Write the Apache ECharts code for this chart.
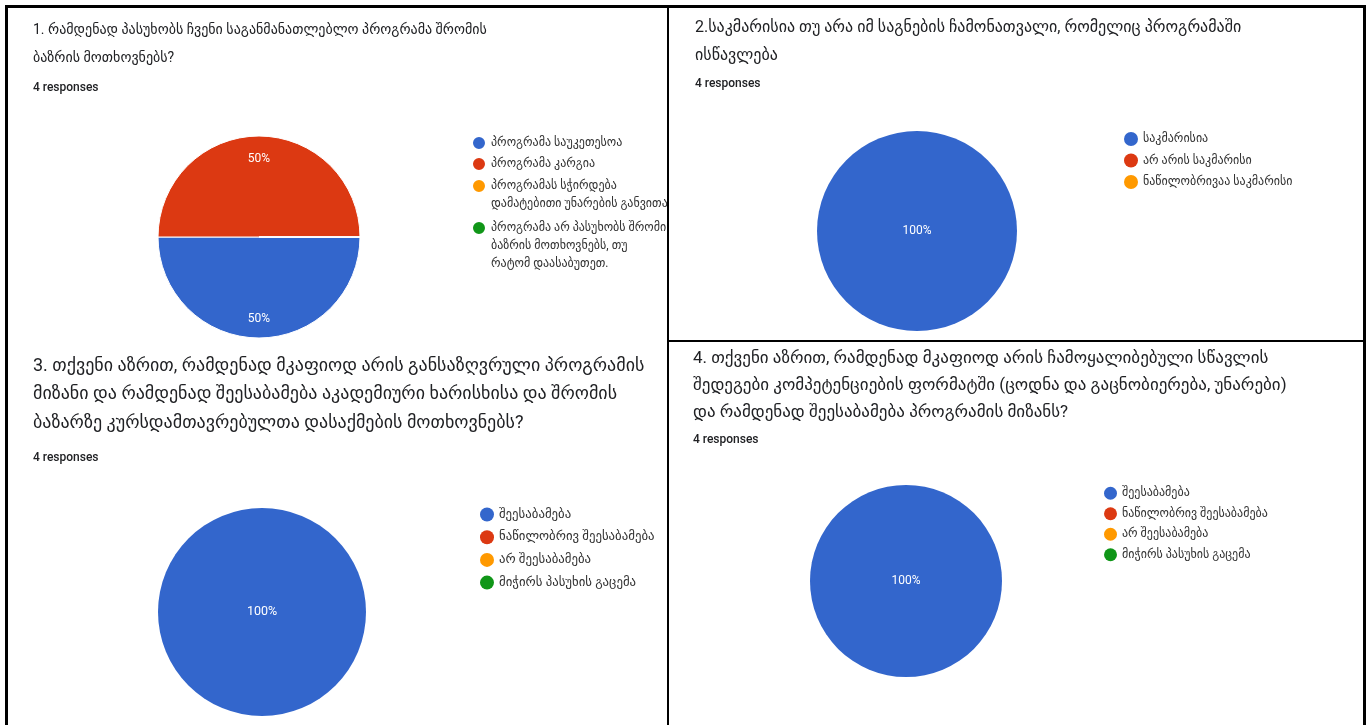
<!DOCTYPE html>
<html>
<head>
<meta charset="utf-8">
<script src="https://cdn.jsdelivr.net/npm/echarts@6/dist/echarts.min.js"></script>
<style>
html,body{margin:0;padding:0;background:#fff;}
#c{position:absolute;left:0;top:0;width:1370px;height:725px;}
#c1{position:absolute;left:0;top:0;width:667px;height:340px;z-index:2;}
</style>
</head>
<body>
<div id="c"></div>
<div id="c1"></div>
<script>
// ---------- data ----------
var titles = [
  "1. რამდენად პასუხობს ჩვენი საგანმანათლებლო პროგრამა შრომის\nბაზრის მოთხოვნებს?",
  "2.საკმარისია თუ არა იმ საგნების ჩამონათვალი, რომელიც პროგრამაში\nისწავლება",
  "3. თქვენი აზრით, რამდენად მკაფიოდ არის განსაზღვრული პროგრამის\nმიზანი და რამდენად შეესაბამება აკადემიური ხარისხისა და შრომის\nბაზარზე კურსდამთავრებულთა დასაქმების მოთხოვნებს?",
  "4. თქვენი აზრით, რამდენად მკაფიოდ არის ჩამოყალიბებული სწავლის\nშედეგები კომპეტენციების ფორმატში (ცოდნა და გაცნობიერება, უნარები)\nდა რამდენად შეესაბამება პროგრამის მიზანს?"
];
var responsesText = "4 responses";

var q1Categories = ["პროგრამა საუკეთესოა", "პროგრამა კარგია",
  "პროგრამას სჭირდება დამატებითი უნარების განვითარება",
  "პროგრამა არ პასუხობს შრომის ბაზრის მოთხოვნებს, თუ რატომ დაასაბუთეთ."];
var q1LegendLabels = ["პროგრამა საუკეთესოა", "პროგრამა კარგია",
  "პროგრამას სჭირდება\nდამატებითი უნარების განვითარება",
  "პროგრამა არ პასუხობს შრომის\nბაზრის მოთხოვნებს, თუ\nრატომ დაასაბუთეთ."];
var q1Values = [2, 2, 0, 0];

var q2Categories = ["საკმარისია", "არ არის საკმარისი", "ნაწილობრივაა საკმარისი"];
var q2Values = [4, 0, 0];

var q3Categories = ["შეესაბამება", "ნაწილობრივ შეესაბამება", "არ შეესაბამება", "მიჭირს პასუხის გაცემა"];
var q3Values = [4, 0, 0, 0];

var q4Categories = ["შეესაბამება", "ნაწილობრივ შეესაბამება", "არ შეესაბამება", "მიჭირს პასუხის გაცემა"];
var q4Values = [4, 0, 0, 0];

var colors = ["#3366cc", "#dc3912", "#ff9900", "#109618"];

// ---------- styling / layout ----------
var FONT = "Roboto, 'DejaVu Sans', sans-serif";
var TXT = "#202124";

function pieData(cats, vals) {
  return cats.map(function (n, i) {
    return { name: n, value: vals[i], itemStyle: { color: colors[i] } };
  });
}
function pctLabel(p) { return p.value ? Math.round(p.percent) + '%' : ''; }

var p1 = { cx: 259, cy: 237, r: 101 };
var legendTextBase = { color: '#333', fontSize: 12, fontFamily: FONT };

// one legend per item so that multi-line items keep their icon on the first line
function singleLegend(name, label, left, firstLineCenter, L) {
  var n = label.split('\n').length;
  var lead = new Array(n).join('\n'); // n-1 empty lines on top keep the first line centred on the icon
  return {
    orient: 'vertical', left: left, top: firstLineCenter - (n - 0.5) * L,
    padding: 0, itemWidth: 14, itemHeight: 14, icon: 'circle',
    data: [name], selectedMode: false,
    formatter: function () { return lead + label; },
    textStyle: Object.assign({}, legendTextBase, { lineHeight: L })
  };
}

function titleItem(text, left, top, size, lh) {
  return { text: text, left: left, top: top, padding: 0,
    textStyle: { fontSize: size, lineHeight: lh, fontWeight: 'normal', color: TXT, fontFamily: FONT } };
}
function respItem(left, top) {
  return { text: responsesText, left: left, top: top, padding: 0,
    textStyle: { fontSize: 12, lineHeight: 16, fontWeight: 500, color: TXT, fontFamily: FONT } };
}

var pieBase = {
  type: 'pie', startAngle: 0, clockwise: true, silent: true,
  emphasis: { disabled: true }, labelLine: { show: false }
};

// ---------- panel 1 (own canvas, clipped at the panel border) ----------
var q1Legends = [];
var q1FirstLines = [143, 164, 186, 228];
for (var i = 0; i < q1Categories.length; i++) {
  q1Legends.push(singleLegend(q1Categories[i], q1LegendLabels[i], 471, q1FirstLines[i], 18));
}
var chart1 = echarts.init(document.getElementById('c1'), null, { renderer: 'canvas' });
chart1.setOption({
  animation: false,
  textStyle: { fontFamily: FONT },
  title: [titleItem(titles[0], 33, 16.5, 14, 28), respItem(33, 80)],
  legend: q1Legends,
  series: [Object.assign({}, pieBase, {
    center: [p1.cx, p1.cy], radius: p1.r,
    itemStyle: { borderColor: '#fff', borderWidth: 1 },
    label: { show: true, position: 'inside', formatter: pctLabel, color: '#fff', fontSize: 12, fontFamily: FONT },
    labelLayout: function (p) {
      var lx = p.labelRect.x + p.labelRect.width / 2, ly = p.labelRect.y + p.labelRect.height / 2;
      var dx = lx - p1.cx, dy = ly - p1.cy, d = Math.sqrt(dx * dx + dy * dy) || 1;
      var t = 0.79 * p1.r;
      return { x: p1.cx + dx / d * t, y: p1.cy + dy / d * t + 2, align: 'center', verticalAlign: 'middle' };
    },
    data: pieData(q1Categories, q1Values)
  })]
});

// ---------- panels 2-4 + frame ----------
var chart = echarts.init(document.getElementById('c'), null, { renderer: 'canvas' });
chart.setOption({
  animation: false,
  textStyle: { fontFamily: FONT },
  title: [
    titleItem(titles[1], 695, 14, 16, 28), respItem(695, 76),
    titleItem(titles[2], 33, 352, 18, 28.5), respItem(33, 450),
    titleItem(titles[3], 693, 345, 17, 27), respItem(693, 432)
  ],
  legend: [
    {
      orient: 'vertical', left: 1124, top: 128.5, padding: 0, itemGap: 0.5,
      itemWidth: 14, itemHeight: 14, icon: 'circle', data: q2Categories, selectedMode: false,
      textStyle: Object.assign({}, legendTextBase, { lineHeight: 21 })
    },
    {
      orient: 'vertical', left: 480, top: 503.5, padding: 0, itemGap: 0.7,
      itemWidth: 14, itemHeight: 14, icon: 'circle', data: q3Categories, selectedMode: false,
      textStyle: Object.assign({}, legendTextBase, { lineHeight: 22, fontSize: 12.8 })
    },
    {
      orient: 'vertical', left: 1104, top: 483, padding: 0, itemGap: 0,
      itemWidth: 13, itemHeight: 13, icon: 'circle', data: q4Categories, selectedMode: false,
      textStyle: Object.assign({}, legendTextBase, { lineHeight: 20.5, fontSize: 12 })
    }
  ],
  series: [
    Object.assign({}, pieBase, {
      center: [917, 231], radius: 100, itemStyle: { borderWidth: 0 },
      label: { show: true, position: 'center', formatter: pctLabel, color: '#fff', fontSize: 12, fontFamily: FONT },
      data: pieData(q2Categories, q2Values)
    }),
    Object.assign({}, pieBase, {
      center: [262, 612], radius: 104, itemStyle: { borderWidth: 0 },
      label: { show: true, position: 'center', formatter: pctLabel, color: '#fff', fontSize: 12.5, fontFamily: FONT },
      data: pieData(q3Categories, q3Values)
    }),
    Object.assign({}, pieBase, {
      center: [906, 581], radius: 96, itemStyle: { borderWidth: 0 },
      label: { show: true, position: 'center', formatter: pctLabel, color: '#fff', fontSize: 12, fontFamily: FONT },
      data: pieData(q4Categories, q4Values)
    })
  ],
  graphic: [
    { type: 'rect', z: 100, shape: { x: 5, y: 5, width: 3, height: 720 }, style: { fill: '#000' } },
    { type: 'rect', z: 100, shape: { x: 5, y: 5, width: 1361, height: 3 }, style: { fill: '#000' } },
    { type: 'rect', z: 100, shape: { x: 1363, y: 5, width: 3, height: 720 }, style: { fill: '#000' } },
    { type: 'rect', z: 100, shape: { x: 667, y: 5, width: 2, height: 720 }, style: { fill: '#000' } },
    { type: 'rect', z: 100, shape: { x: 667, y: 340, width: 699, height: 2 }, style: { fill: '#000' } }
  ]
});
</script>
</body>
</html>
